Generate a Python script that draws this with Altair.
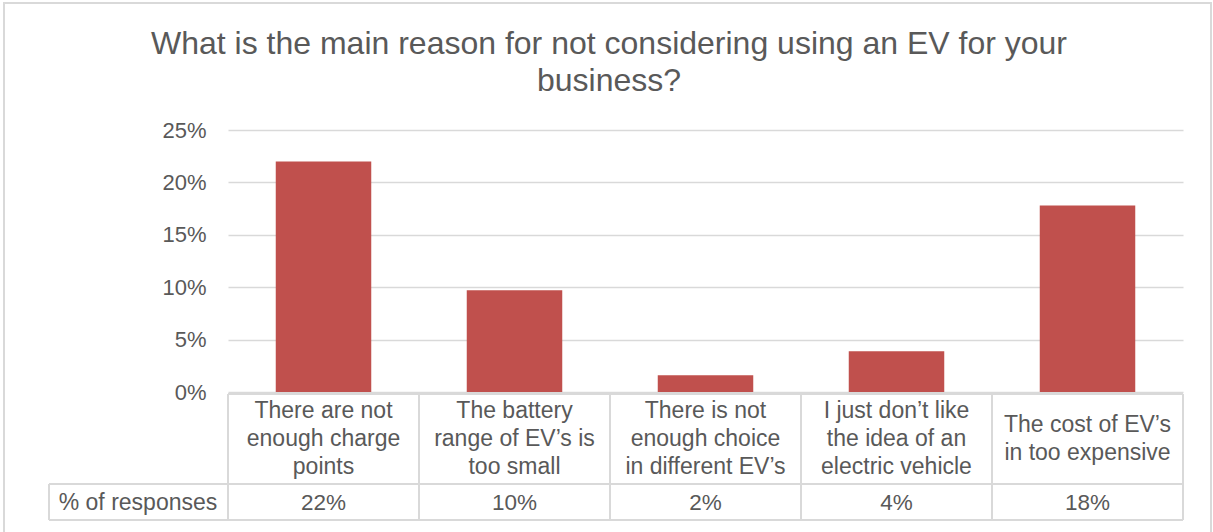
import altair as alt
import pandas as pd

categories = [
    "There are not\nenough charge\npoints",
    "The battery\nrange of EV’s is\ntoo small",
    "There is not\nenough choice\nin different EV’s",
    "I just don’t like\nthe idea of an\nelectric vehicle",
    "The cost of EV’s\nin too expensive",
]
values = [0.22, 0.097, 0.016, 0.039, 0.178]
series_name = "% of responses"
title_text = "What is the main reason for not considering using an EV for your\nbusiness?"
y_ticks = [0, 0.05, 0.10, 0.15, 0.20, 0.25]

FONT = "Liberation Sans"
TXT = "#595959"
GRID = "#d9d9d9"
W, H = 955, 262
PL, PT = 228, 130
LH = 28

df = pd.DataFrame({"cat": categories, "val": values})

xband = alt.X("cat:N", sort=categories, axis=None,
              scale=alt.Scale(paddingInner=0.5, paddingOuter=0.25))

bars = alt.Chart(df).mark_bar(color="#C0504D").encode(
    x=xband,
    y=alt.Y("val:Q", scale=alt.Scale(domain=[0, 0.25]),
            axis=alt.Axis(values=y_ticks, format=".0%", title=None, domain=False,
                          ticks=False, labelFontSize=22, labelColor=TXT, labelFont=FONT,
                          labelPadding=22, gridColor=GRID, gridWidth=1.5)),
)

cat_text = alt.Chart(df).transform_calculate(
    ty=f"309 - (length(split(datum.cat, '\\n')) - 1) * {LH} / 2"
).mark_text(fontSize=23, font=FONT, color=TXT, lineBreak="\n",
            lineHeight=LH, baseline="middle").encode(
    x=xband, y=alt.Y("ty:Q", scale=None), text="cat:N")

val_text = alt.Chart(df).mark_text(fontSize=22.5, font=FONT, color=TXT, baseline="middle").encode(
    x=xband, y=alt.value(373), text=alt.Text("val:Q", format=".0%"))

hdr = alt.Chart(pd.DataFrame({"t": [series_name]})).mark_text(
    fontSize=23, font=FONT, color=TXT, baseline="middle", align="center").encode(
    x=alt.value(-90), y=alt.value(373), text="t:N")

title = alt.Chart(pd.DataFrame({"t": [title_text]})).mark_text(
    fontSize=32, font=FONT, color=TXT, baseline="middle", align="center",
    lineBreak="\n", lineHeight=37).encode(
    x=alt.value(381), y=alt.value(-86), text="t:N")

# table vertical lines at cell boundaries (linear index scale)
bounds = pd.DataFrame({"b": list(range(len(categories) + 1))})
vlines = alt.Chart(bounds).mark_rule(color=GRID, strokeWidth=2).encode(
    x=alt.X("b:Q", scale=alt.Scale(domain=[0, len(categories)], nice=False), axis=None),
    y=alt.value(264), y2=alt.value(390))

hlines_df = pd.DataFrame({"x0": [0, -179, -179], "yy": [264, 354, 390]})
hlines = alt.Chart(hlines_df).mark_rule(color=GRID, strokeWidth=2).encode(
    x=alt.X("x0:Q", scale=None), x2=alt.value(W), y=alt.Y("yy:Q", scale=None))

hdr_left = alt.Chart(pd.DataFrame({"a": [0]})).mark_rule(color=GRID, strokeWidth=2).encode(
    x=alt.value(-179), y=alt.value(354), y2=alt.value(390))

frame = alt.Chart(pd.DataFrame({"a": [0]})).mark_rect(
    fill=None, stroke=GRID, strokeWidth=2).encode(
    x=alt.value(-224), x2=alt.value(983), y=alt.value(-127), y2=alt.value(420))

chart = alt.layer(frame, bars, vlines, hlines, hdr_left, cat_text, val_text, hdr, title).resolve_scale(
    x="independent").properties(
    width=W, height=H,
    autosize=alt.AutoSizeParams(type="none"),
    padding={"left": PL, "top": PT, "right": 1213 - PL - W, "bottom": 532 - PT - H},
).configure(background="white").configure_view(strokeWidth=0, stroke="transparent")

chart.save("out.html", embed_options={"renderer": "svg", "actions": False})
